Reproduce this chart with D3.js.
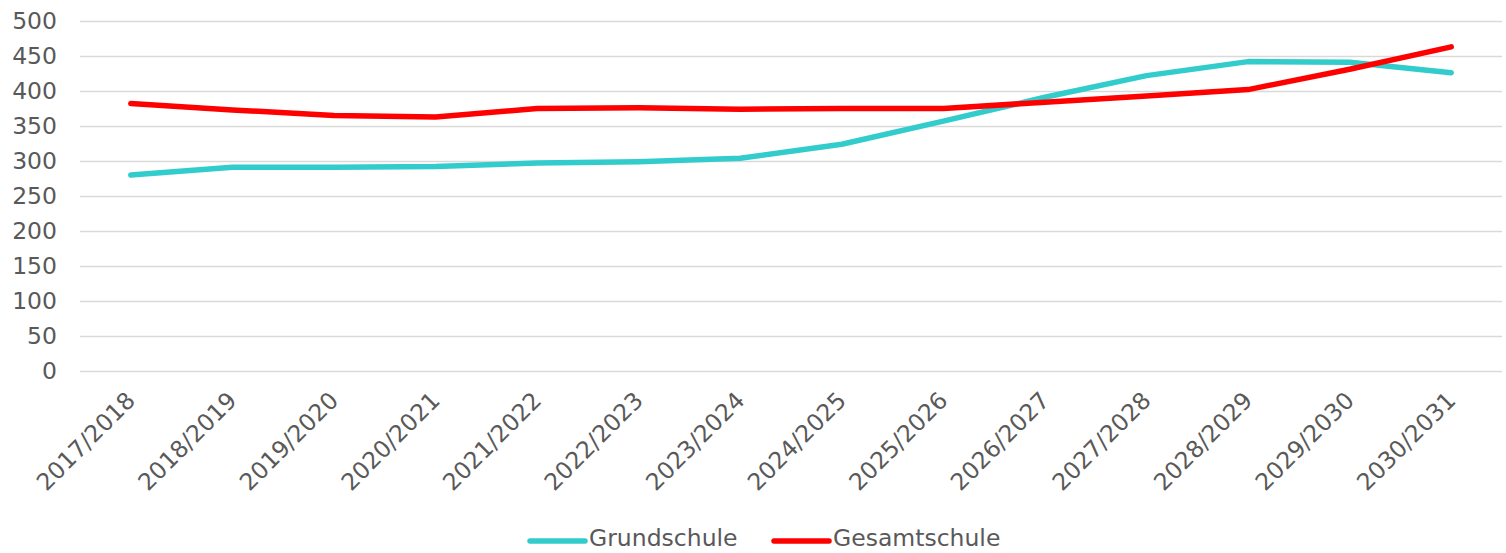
<!DOCTYPE html>
<html>
<head>
<meta charset="utf-8">
<script src="https://cdn.jsdelivr.net/npm/d3@7"></script>
<style>
  body { margin: 0; background: #fff; }
  svg { display: block; font-family: "DejaVu Sans", Verdana, sans-serif; }
</style>
</head>
<body>
<svg id="chart" width="1506" height="553"></svg>
<script>
// school years on the x axis
let years = ["2017/2018", "2018/2019", "2019/2020", "2020/2021", "2021/2022", "2022/2023",
  "2023/2024", "2024/2025", "2025/2026", "2026/2027", "2027/2028", "2028/2029",
  "2029/2030", "2030/2031"];

// values
let grundschule = [280, 291, 291, 292, 297, 299, 304, 324, 357, 391, 422, 442, 441, 426];
let gesamtschule = [382, 373, 365, 363, 375, 376, 374, 375, 375, 384, 393, 402, 431, 463];

let yTicks = [0, 50, 100, 150, 200, 250, 300, 350, 400, 450, 500];

let seriesList = [
  { name: "Grundschule", values: grundschule, color: "#33cccc" },
  { name: "Gesamtschule", values: gesamtschule, color: "#ff0000" }
];

let fontSize = 23.5;

let drawLineChart = function() {
  let svg = d3.select("#chart");

  let margin = { top: 21, right: 4, bottom: 182, left: 80 };
  let width = +svg.attr("width");
  let height = +svg.attr("height");
  let plotWidth = width - margin.left - margin.right;
  let plotHeight = height - margin.top - margin.bottom;

  let xScale = d3.scaleBand()
    .domain(years)
    .range([0, plotWidth]);

  let yScale = d3.scaleLinear()
    .domain([0, 500])
    .range([plotHeight, 0]);

  let xPos = d => xScale(d) + xScale.bandwidth() / 2;

  let plot = svg.append("g")
    .attr("transform", "translate(" + margin.left + "," + margin.top + ")");

  // horizontal grid lines + y labels
  let yAxis = d3.axisLeft(yScale)
    .tickValues(yTicks)
    .tickSize(-plotWidth)
    .tickPadding(23);

  let yGroup = plot.append("g").call(yAxis);
  yGroup.select(".domain").remove();
  yGroup.selectAll(".tick line")
    .attr("stroke", "#d9d9d9")
    .attr("stroke-width", 1.5);
  yGroup.selectAll(".tick text")
    .attr("fill", "#595959")
    .attr("font-size", fontSize)
    .attr("font-family", "DejaVu Sans, Verdana, sans-serif");

  // x labels, rotated
  let xGroup = plot.append("g")
    .attr("transform", "translate(0," + plotHeight + ")");
  xGroup.selectAll("text")
    .data(years)
    .join("text")
      .attr("transform", d => "translate(" + xPos(d) + ",25) rotate(-45)")
      .attr("text-anchor", "end")
      .attr("dy", "0.35em")
      .attr("fill", "#595959")
      .attr("font-size", fontSize)
      .text(d => d);

  let line = d3.line()
    .x((d, i) => xPos(years[i]))
    .y(d => yScale(d));

  plot.selectAll("path.series")
    .data(seriesList)
    .join("path")
      .attr("class", "series")
      .attr("fill", "none")
      .attr("stroke", d => d.color)
      .attr("stroke-width", 5.5)
      .attr("stroke-linecap", "round")
      .attr("stroke-linejoin", "round")
      .attr("d", d => line(d.values));

  // legend
  let legendX = [530, 774];
  let legend = svg.append("g")
    .selectAll("g")
    .data(seriesList)
    .join("g")
      .attr("transform", (d, i) => "translate(" + legendX[i] + ",541)");
  legend.append("line")
    .attr("x1", 0).attr("x2", 55)
    .attr("stroke", d => d.color)
    .attr("stroke-width", 5.5)
    .attr("stroke-linecap", "round");
  legend.append("text")
    .attr("x", 59)
    .attr("y", -3)
    .attr("dy", "0.35em")
    .attr("fill", "#595959")
    .attr("font-size", fontSize)
    .text(d => d.name);
};

drawLineChart();
</script>
</body>
</html>
